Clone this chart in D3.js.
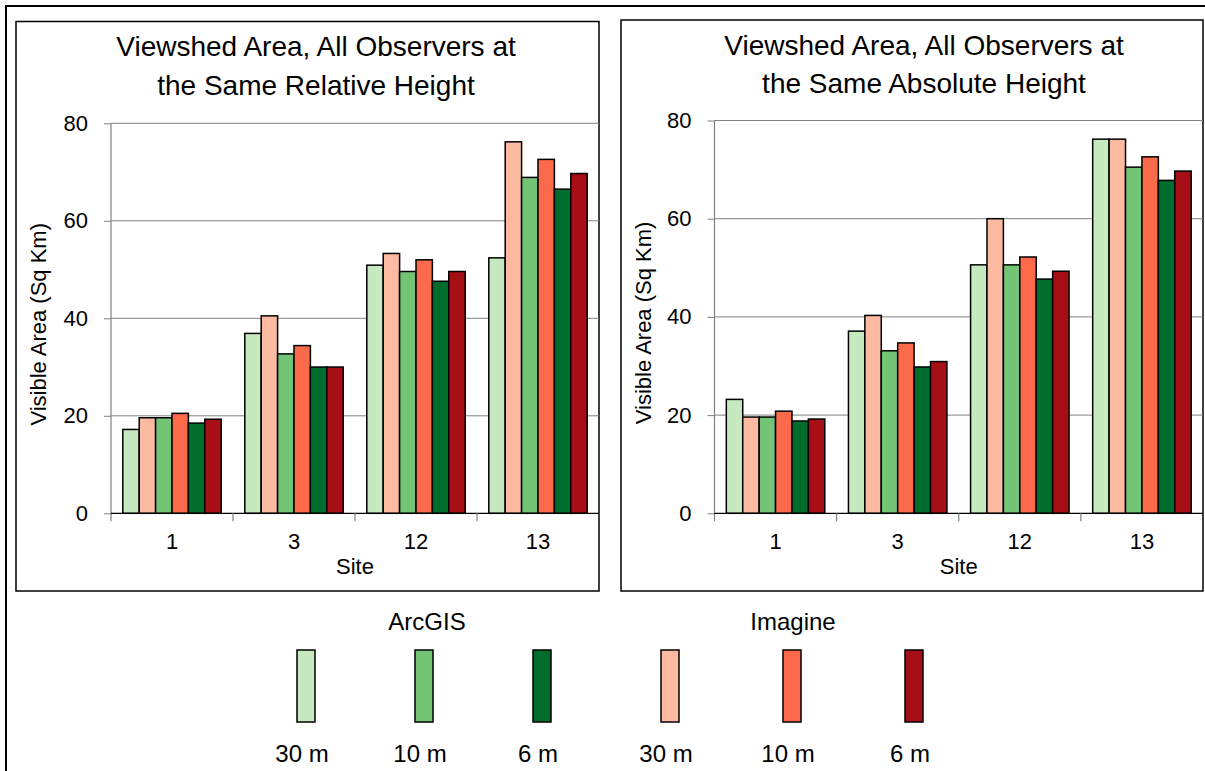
<!DOCTYPE html>
<html>
<head>
<meta charset="utf-8">
<script src="https://cdn.jsdelivr.net/npm/d3@7"></script>
<style>
  html, body { margin: 0; padding: 0; background: #fff; }
  svg { display: block; font-family: "Liberation Sans", Arial, sans-serif; }
</style>
</head>
<body>
<svg id="chart" width="1205" height="771"></svg>
<script>
// ---- data ----
const sites = ["1", "3", "12", "13"];
const seriesNames = ["ArcGIS 30 m", "Imagine 30 m", "ArcGIS 10 m", "Imagine 10 m", "ArcGIS 6 m", "Imagine 6 m"];
const seriesColors = ["#c7e9c0", "#fcbba1", "#74c476", "#fb6a4a", "#006d2c", "#a50f15"];
const yTicks = [0, 20, 40, 60, 80];

// Same relative height
const relArc30 = [17.2, 36.9, 50.9, 52.4];
const relImg30 = [19.6, 40.5, 53.3, 76.2];
const relArc10 = [19.6, 32.7, 49.6, 68.9];
const relImg10 = [20.5, 34.4, 52.0, 72.6];
const relArc6  = [18.5, 30.0, 47.6, 66.5];
const relImg6  = [19.3, 30.0, 49.6, 69.7];

// Same absolute height
const absArc30 = [23.2, 37.1, 50.6, 76.2];
const absImg30 = [19.6, 40.3, 60.0, 76.2];
const absArc10 = [19.6, 33.1, 50.6, 70.5];
const absImg10 = [20.8, 34.7, 52.2, 72.6];
const absArc6  = [18.8, 29.8, 47.7, 67.8];
const absImg6  = [19.2, 30.9, 49.3, 69.7];

const legendGroups = ["ArcGIS", "Imagine"];
const legendLabels = ["30 m", "10 m", "6 m"];

// ---- drawing ----
const svg = d3.select("#chart");

// outer frame (right/bottom edges fall outside the picture)
svg.append("rect").attr("x", 6).attr("y", 6).attr("width", 1215).attr("height", 790)
  .attr("fill", "none").attr("stroke", "#000").attr("stroke-width", 2);

const panels = [
  { title: ["Viewshed Area, All Observers at", "the Same Relative Height"],
    series: [relArc30, relImg30, relArc10, relImg10, relArc6, relImg6],
    box: [16, 21.5, 599, 591], plot: [111, 599], yTop: 123.3, yBottom: 513.3,
    titleX: 316, titleY: [56, 95], yTitleX: 46 },
  { title: ["Viewshed Area, All Observers at", "the Same Absolute Height"],
    series: [absArc30, absImg30, absArc10, absImg10, absArc6, absImg6],
    box: [621, 20, 1203, 591], plot: [714.5, 1203], yTop: 120.5, yBottom: 513.3,
    titleX: 924, titleY: [55, 93], yTitleX: 651 }
];

panels.forEach(p => {
  const g = svg.append("g");
  g.append("rect").attr("x", p.box[0]).attr("y", p.box[1])
    .attr("width", p.box[2] - p.box[0]).attr("height", p.box[3] - p.box[1])
    .attr("fill", "#fff").attr("stroke", "#000").attr("stroke-width", 1.5);

  // title
  p.title.forEach((t, i) => {
    g.append("text").attr("x", p.titleX).attr("y", p.titleY[i])
      .attr("text-anchor", "middle").attr("font-size", 28).attr("fill", "#000").text(t);
  });

  const x0 = d3.scaleBand().domain(sites).range(p.plot).padding(0);
  const x1 = d3.scaleBand().domain(seriesNames).range([0, x0.bandwidth()])
    .paddingInner(0).paddingOuter(0.72);
  const y = d3.scaleLinear().domain([0, 80]).range([p.yBottom, p.yTop]);

  // gridlines
  g.append("g").selectAll("line").data(yTicks.filter(d => d > 0)).join("line")
    .attr("x1", p.plot[0]).attr("x2", p.plot[1])
    .attr("y1", d => y(d)).attr("y2", d => y(d))
    .attr("stroke", "#808080").attr("stroke-width", 1);

  // bars
  const rows = [];
  p.series.forEach((vals, si) => {
    vals.forEach((v, ci) => rows.push({ site: sites[ci], s: seriesNames[si], color: seriesColors[si], v }));
  });
  g.append("g").selectAll("rect").data(rows).join("rect")
    .attr("x", d => x0(d.site) + x1(d.s))
    .attr("y", d => y(d.v))
    .attr("width", x1.bandwidth())
    .attr("height", d => y(0) - y(d.v))
    .attr("fill", d => d.color)
    .attr("stroke", "#000").attr("stroke-width", 1.5);

  // y axis
  const ya = g.append("g").attr("transform", `translate(${p.plot[0]},0)`)
    .call(d3.axisLeft(y).tickValues(yTicks).tickSize(7).tickPadding(16));
  ya.select(".domain").remove();
  ya.selectAll(".tick line").attr("stroke", "#808080");
  ya.selectAll(".tick text").attr("font-size", 22).attr("fill", "#000")
    .attr("font-family", "Liberation Sans, Arial, sans-serif");
  g.append("line").attr("x1", p.plot[0]).attr("x2", p.plot[0])
    .attr("y1", y(80)).attr("y2", y(0) + 8).attr("stroke", "#808080").attr("stroke-width", 1.2);

  // x axis
  g.append("line").attr("x1", p.plot[0]).attr("x2", p.plot[1])
    .attr("y1", y(0)).attr("y2", y(0)).attr("stroke", "#000").attr("stroke-width", 1.2);
  g.append("g").selectAll("line").data(sites.slice(1)).join("line")
    .attr("x1", d => x0(d)).attr("x2", d => x0(d))
    .attr("y1", y(0)).attr("y2", y(0) + 8)
    .attr("stroke", "#808080").attr("stroke-width", 1.2);
  const xa = g.append("g").attr("transform", `translate(0,${y(0)})`)
    .call(d3.axisBottom(x0).tickSize(0).tickPadding(20));
  xa.select(".domain").remove();
  xa.selectAll(".tick text").attr("font-size", 22).attr("fill", "#000")
    .attr("font-family", "Liberation Sans, Arial, sans-serif");

  g.append("text").attr("x", (p.plot[0] + p.plot[1]) / 2).attr("y", 574)
    .attr("text-anchor", "middle").attr("font-size", 22).text("Site");

  g.append("text")
    .attr("transform", `translate(${p.yTitleX},${(p.yTop + p.yBottom) / 2 + 6}) rotate(-90)`)
    .attr("text-anchor", "middle").attr("font-size", 22).text("Visible Area (Sq Km)");
});

// legend
const legendRanges = [[306, 542], [670, 914]];
const legendTitleX = [427, 793];
legendGroups.forEach((grp, gi) => {
  const lx = d3.scalePoint().domain(legendLabels).range(legendRanges[gi]);
  const g = svg.append("g");
  g.append("text").attr("x", legendTitleX[gi]).attr("y", 630)
    .attr("text-anchor", "middle").attr("font-size", 24).text(grp);
  legendLabels.forEach((lab, li) => {
    const color = seriesColors[li * 2 + gi];
    g.append("rect").attr("x", lx(lab) - 9).attr("y", 650).attr("width", 18).attr("height", 72)
      .attr("fill", color).attr("stroke", "#000").attr("stroke-width", 1.5);
    g.append("text").attr("x", lx(lab) - 4).attr("y", 762)
      .attr("text-anchor", "middle").attr("font-size", 24).text(lab);
  });
});
</script>
</body>
</html>
